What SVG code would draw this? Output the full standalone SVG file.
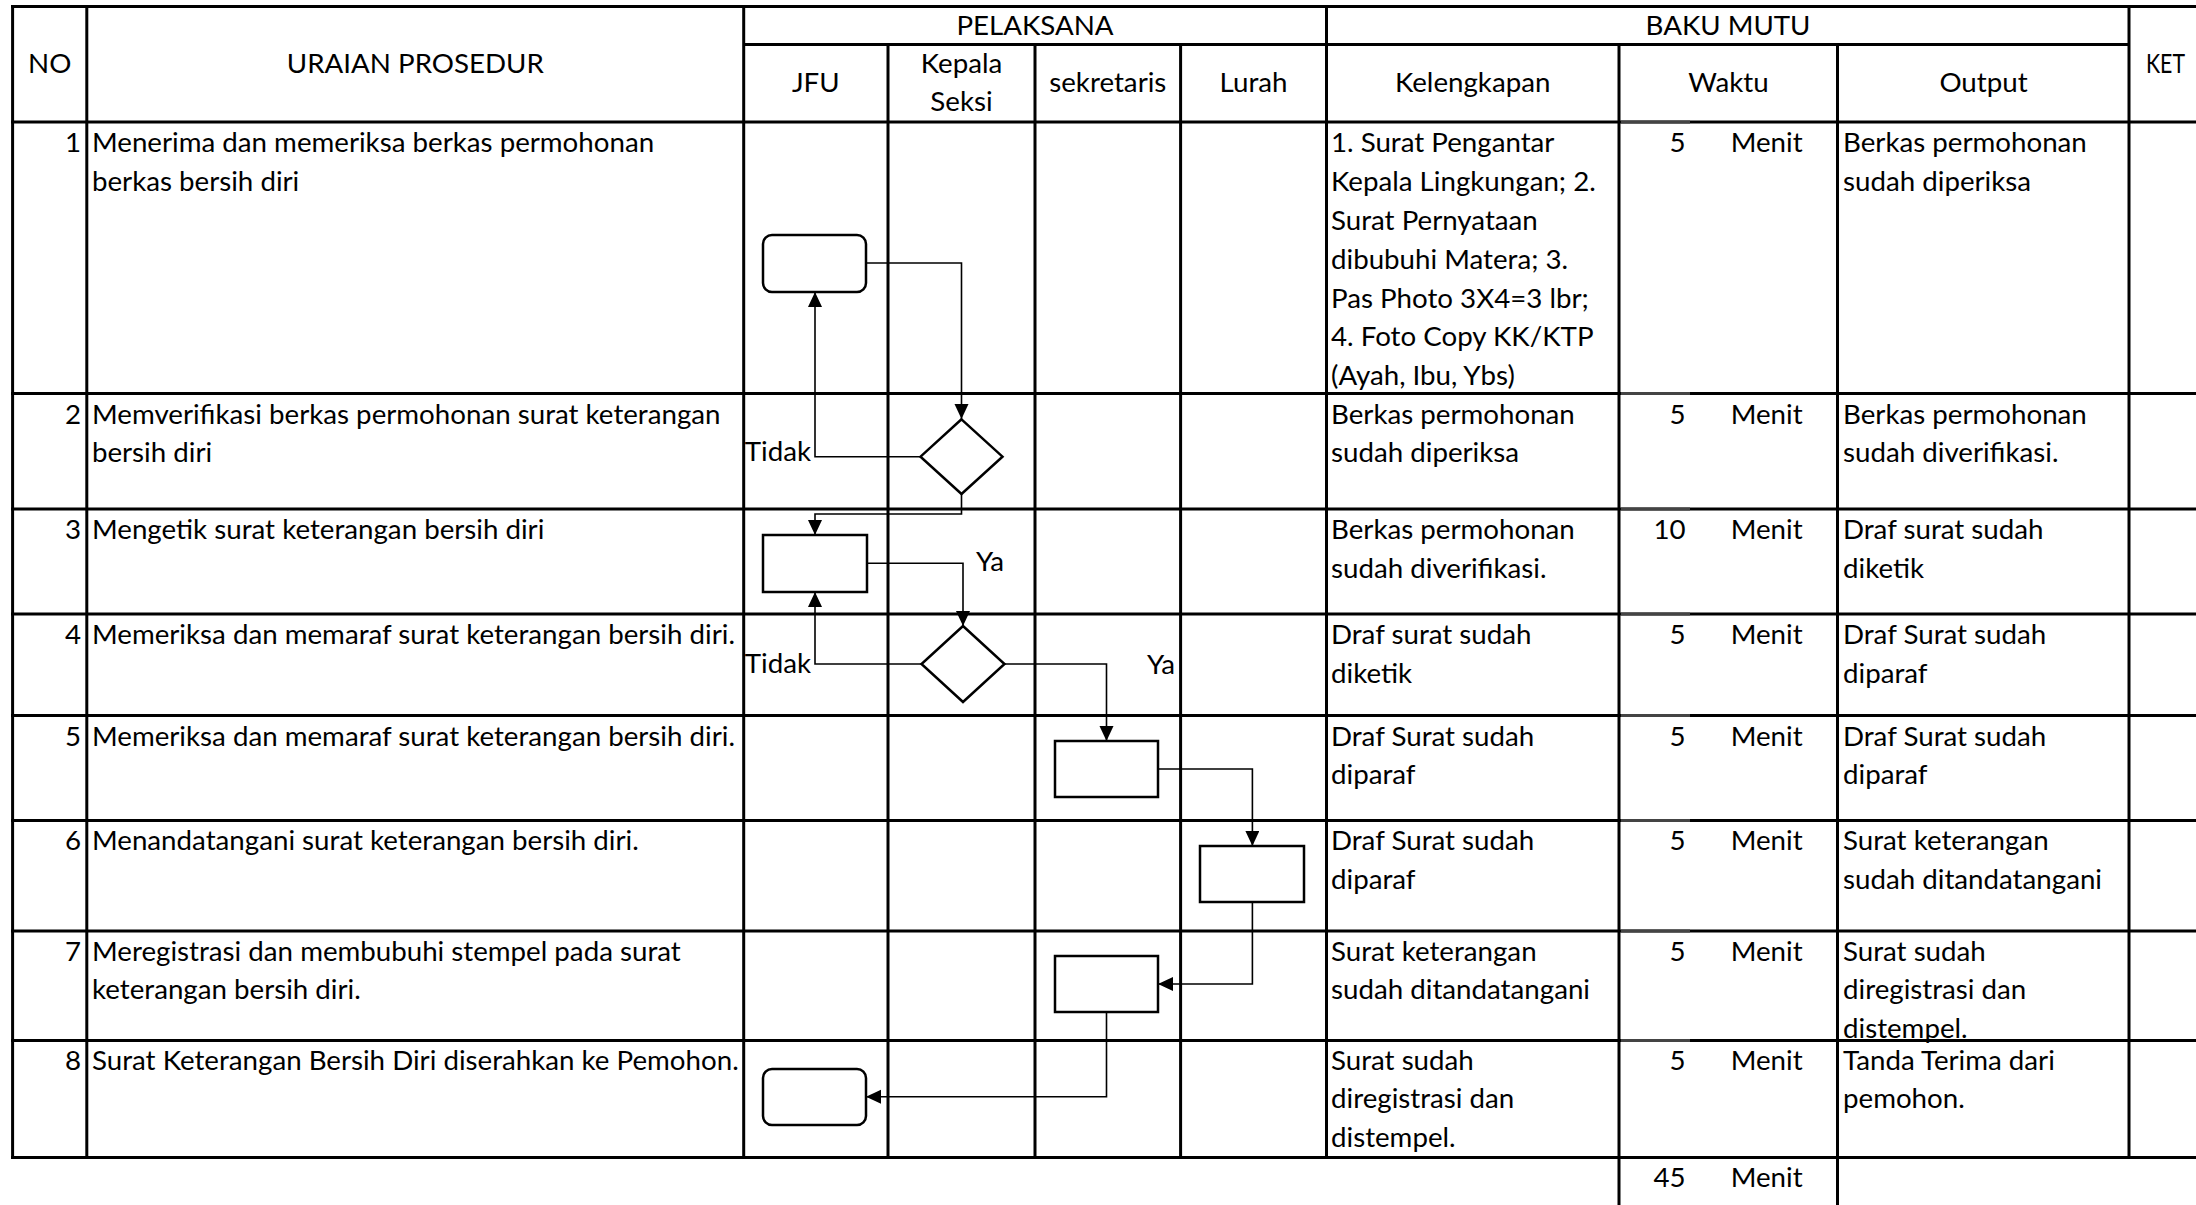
<svg xmlns="http://www.w3.org/2000/svg" width="2196" height="1205" viewBox="0 0 2196 1205">
<style>
text{font-family:Lato,"Liberation Sans",sans-serif;font-size:27.7px;fill:#000}
.c{text-anchor:middle}
.r{text-anchor:end}
.g{stroke:#000;stroke-width:3;fill:none}
.gs{stroke:#444;stroke-width:3;fill:none}
.shape{fill:#fff;stroke:#000;stroke-width:2.5}
.con{fill:none;stroke:#000;stroke-width:1.6}
</style>
<defs>
<marker id="ah" markerUnits="userSpaceOnUse" markerWidth="16" markerHeight="16" refX="15" refY="7" orient="auto"><path d="M0,0 L15,7 L0,14 z" fill="#000"/></marker>
</defs>
<rect width="2196" height="1205" fill="#fff"/>

<g id="grid">
<path class="g" d="M12.6,6.5V1157.5M86.8,6.5V1157.5M743.7,6.5V1157.5M888,44.5V1157.5M1035,44.5V1157.5M1180.6,44.5V1157.5M1326.5,6.5V1157.5M1619,44.5V1205M1837.5,44.5V1205M2129,6.5V1157.5"/>
<path class="g" d="M11,6.5H2196M743.7,44.5H2129M11,122H2196M11,393.5H2196M11,509H2196M11,614H2196M11,715.5H2196M11,820.5H2196M11,931H2196M11,1040.5H2196M11,1157.5H2196"/>
<path class="gs" d="M1621,122H1690M1621,393.5H1690M1621,509H1690M1621,614H1690M1621,715.5H1690M1621,820.5H1690M1621,931H1690M1621,1040.5H1690"/>
</g>

<g id="header">
<text class="c" x="49.7" y="72.7">NO</text>
<text class="c" x="415.3" y="72.7">URAIAN PROSEDUR</text>
<text class="c" x="1035" y="34.5">PELAKSANA</text>
<text class="c" x="1728" y="34.5">BAKU MUTU</text>
<text x="2146" y="72.7" textLength="39" lengthAdjust="spacingAndGlyphs">KET</text>
<text class="c" x="815.8" y="92.3">JFU</text>
<text class="c" x="961.5" y="72.5">Kepala</text>
<text class="c" x="961.5" y="111">Seksi</text>
<text class="c" x="1107.8" y="92.3">sekretaris</text>
<text class="c" x="1253.5" y="92.3">Lurah</text>
<text class="c" x="1472.7" y="92.3">Kelengkapan</text>
<text class="c" x="1728.5" y="92.3">Waktu</text>
<text class="c" x="1983.5" y="92.3">Output</text>
</g>

<g id="row1">
<text class="r" x="81" y="152">1</text>
<text x="92" y="152">Menerima dan memeriksa berkas permohonan</text>
<text x="92" y="191">berkas bersih diri</text>
<text x="1331" y="152">1. Surat Pengantar</text>
<text x="1331" y="191">Kepala Lingkungan; 2.</text>
<text x="1331" y="230">Surat Pernyataan</text>
<text x="1331" y="268.5">dibubuhi Matera; 3.</text>
<text x="1331" y="307.5">Pas Photo 3X4=3 lbr;</text>
<text x="1331" y="346">4. Foto Copy KK/KTP</text>
<text x="1331" y="385">(Ayah, Ibu, Ybs)</text>
<text class="r" x="1685.5" y="152">5</text>
<text x="1730.7" y="152">Menit</text>
<text x="1843" y="152">Berkas permohonan</text>
<text x="1843" y="191">sudah diperiksa</text>
</g>

<g id="row2">
<text class="r" x="81" y="423.5">2</text>
<text x="92" y="423.5">Memverifikasi berkas permohonan surat keterangan</text>
<text x="92" y="462">bersih diri</text>
<text x="1331" y="423.5">Berkas permohonan</text>
<text x="1331" y="462">sudah diperiksa</text>
<text class="r" x="1685.5" y="423.5">5</text>
<text x="1730.7" y="423.5">Menit</text>
<text x="1843" y="423.5">Berkas permohonan</text>
<text x="1843" y="462">sudah diverifikasi.</text>
</g>

<g id="row3">
<text class="r" x="81" y="539">3</text>
<text x="92" y="539">Mengetik surat keterangan bersih diri</text>
<text x="1331" y="539">Berkas permohonan</text>
<text x="1331" y="577.5">sudah diverifikasi.</text>
<text class="r" x="1685.5" y="539">10</text>
<text x="1730.7" y="539">Menit</text>
<text x="1843" y="539">Draf surat sudah</text>
<text x="1843" y="577.5">diketik</text>
</g>

<g id="row4">
<text class="r" x="81" y="644">4</text>
<text x="92" y="644">Memeriksa dan memaraf surat keterangan bersih diri.</text>
<text x="1331" y="644">Draf surat sudah</text>
<text x="1331" y="682.5">diketik</text>
<text class="r" x="1685.5" y="644">5</text>
<text x="1730.7" y="644">Menit</text>
<text x="1843" y="644">Draf Surat sudah</text>
<text x="1843" y="682.5">diparaf</text>
</g>

<g id="row5">
<text class="r" x="81" y="745.5">5</text>
<text x="92" y="745.5">Memeriksa dan memaraf surat keterangan bersih diri.</text>
<text x="1331" y="745.5">Draf Surat sudah</text>
<text x="1331" y="784">diparaf</text>
<text class="r" x="1685.5" y="745.5">5</text>
<text x="1730.7" y="745.5">Menit</text>
<text x="1843" y="745.5">Draf Surat sudah</text>
<text x="1843" y="784">diparaf</text>
</g>

<g id="row6">
<text class="r" x="81" y="850">6</text>
<text x="92" y="850">Menandatangani surat keterangan bersih diri.</text>
<text x="1331" y="850">Draf Surat sudah</text>
<text x="1331" y="888.5">diparaf</text>
<text class="r" x="1685.5" y="850">5</text>
<text x="1730.7" y="850">Menit</text>
<text x="1843" y="850">Surat keterangan</text>
<text x="1843" y="888.5">sudah ditandatangani</text>
</g>

<g id="row7">
<text class="r" x="81" y="960.5">7</text>
<text x="92" y="960.5">Meregistrasi dan membubuhi stempel pada surat</text>
<text x="92" y="999">keterangan bersih diri.</text>
<text x="1331" y="960.5">Surat keterangan</text>
<text x="1331" y="999">sudah ditandatangani</text>
<text class="r" x="1685.5" y="960.5">5</text>
<text x="1730.7" y="960.5">Menit</text>
<text x="1843" y="960.5">Surat sudah</text>
<text x="1843" y="999">diregistrasi dan</text>
<text x="1843" y="1037.5">distempel.</text>
</g>

<g id="row8">
<text class="r" x="81" y="1069.5">8</text>
<text x="92" y="1069.5">Surat Keterangan Bersih Diri diserahkan ke Pemohon.</text>
<text x="1331" y="1069.5">Surat sudah</text>
<text x="1331" y="1108">diregistrasi dan</text>
<text x="1331" y="1146.5">distempel.</text>
<text class="r" x="1685.5" y="1069.5">5</text>
<text x="1730.7" y="1069.5">Menit</text>
<text x="1843" y="1069.5">Tanda Terima dari</text>
<text x="1843" y="1108">pemohon.</text>
</g>

<g id="total">
<text class="r" x="1685.5" y="1187">45</text>
<text x="1730.7" y="1187">Menit</text>
</g>

<g id="connectors">
<path class="con" d="M866,263H961.5V419" marker-end="url(#ah)"/>
<path class="con" d="M920.5,456.7H815V292" marker-end="url(#ah)"/>
<path class="con" d="M961.5,494V514H815V535" marker-end="url(#ah)"/>
<path class="con" d="M867,563.3H963V626" marker-end="url(#ah)"/>
<path class="con" d="M921.5,664H815V592" marker-end="url(#ah)"/>
<path class="con" d="M1004.5,664H1106.5V741" marker-end="url(#ah)"/>
<path class="con" d="M1158,769H1252.4V846" marker-end="url(#ah)"/>
<path class="con" d="M1252.4,902V984H1158" marker-end="url(#ah)"/>
<path class="con" d="M1106.5,1012V1096.7H866" marker-end="url(#ah)"/>
<text class="r" x="811" y="460.7">Tidak</text>
<text class="r" x="811" y="673">Tidak</text>
<text x="976" y="570.7">Ya</text>
<text x="1147" y="673.5">Ya</text>
</g>

<g id="start"><rect class="shape" x="763" y="235" width="103" height="57" rx="9"/></g>
<g id="verify"><polygon class="shape" points="961.5,419.3 1002.5,456.7 961.5,494 920.5,456.7"/></g>
<g id="type"><rect class="shape" x="763" y="535" width="104" height="57"/></g>
<g id="check"><polygon class="shape" points="963,626 1004.5,664 963,702 921.5,664"/></g>
<g id="paraf"><rect class="shape" x="1055" y="741" width="103" height="56"/></g>
<g id="sign"><rect class="shape" x="1200" y="846" width="104" height="56"/></g>
<g id="register"><rect class="shape" x="1055" y="956" width="103" height="56"/></g>
<g id="end"><rect class="shape" x="763" y="1069" width="103" height="56" rx="9"/></g>
</svg>
